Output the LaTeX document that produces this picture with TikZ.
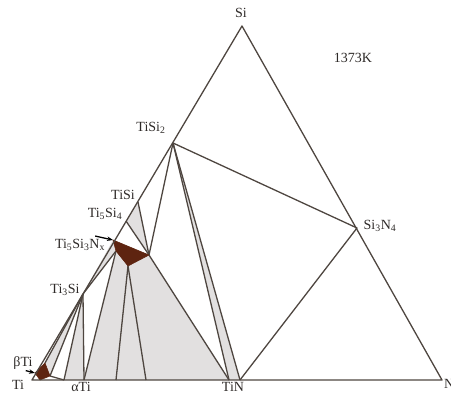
\documentclass[tikz,border=0pt]{standalone}
\usepackage{fontspec}
\setmainfont{Liberation Serif}
\usetikzlibrary{arrows.meta}

\begin{document}
\begin{tikzpicture}[x=1pt, y=-1pt,
    every node/.style={font=\fontsize{14}{16}\selectfont, inner sep=0pt, text=textc},
    tie/.style={draw=linec, line width=1.3pt, line join=round},
    twophase/.style={fill=grayc},
    phase/.style={fill=darkc, draw=darkc, line width=0.6pt, line join=round},
    pointer/.style={-{Stealth[length=6pt, width=4.5pt]}, line width=1.3pt}]
  \definecolor{linec}{HTML}{4E4640}
  \definecolor{textc}{HTML}{2E2A28}
  \definecolor{grayc}{HTML}{E2E0E0}
  \definecolor{darkc}{HTML}{5E2410}
  \useasboundingbox (0,0) rectangle (451,396);
  % corners of the section
  \coordinate (Ti) at (32,380);
  \coordinate (N) at (442,380);
  \coordinate (Si) at (242,26);
  % Ti-Si side
  \coordinate (TiSiTwo) at (173,143);
  \coordinate (TiSiOne) at (138,202);
  \coordinate (TiFiveSiFour) at (126,221);
  \coordinate (TiThreeSi) at (83,294);
  % Ti5Si3Nx field
  \coordinate (d1) at (113,240);
  \coordinate (d2) at (149,255);
  \coordinate (d3) at (128,266);
  \coordinate (d4) at (116,251);
  % beta Ti field
  \coordinate (b1) at (35,373);
  \coordinate (b2) at (45,363);
  \coordinate (b3) at (50,376);
  \coordinate (b4) at (40,380);
  % Ti-N side
  \coordinate (a1) at (64,380);
  \coordinate (a2) at (84,380);
  \coordinate (a3) at (116,380);
  \coordinate (a4) at (146,380);
  \coordinate (n1) at (229,380);
  \coordinate (n2) at (240,380);
  % Si-N side
  \coordinate (SiThreeNFour) at (357,228);

  % two phase fields
  \fill[twophase] (TiSiTwo) -- (n1) -- (n2) -- cycle;
  \fill[twophase] (d2) -- (n1) -- (a3) -- (d3) -- cycle;
  \fill[twophase] (d4) -- (d3) -- (a3) -- (a2) -- cycle;
  \fill[twophase] (TiFiveSiFour) -- (TiSiOne) -- (d2) -- cycle;
  \fill[twophase] (TiThreeSi) -- (d1) -- (d4) -- cycle;
  \fill[twophase] (TiThreeSi) -- (a1) -- (a2) -- cycle;
  \fill[twophase] (b2) -- (TiThreeSi) -- (b3) -- cycle;

  % tie lines
  \draw[tie] (TiSiTwo) -- (SiThreeNFour) -- (n2);
  \draw[tie] (TiSiTwo) -- (n1);
  \draw[tie] (TiSiTwo) -- (n2);
  \draw[tie] (TiSiTwo) -- (d2);
  \draw[tie] (TiSiOne) -- (d2);
  \draw[tie] (TiFiveSiFour) -- (d2);
  \draw[tie] (d2) -- (n1);
  \draw[tie] (d3) -- (a4);
  \draw[tie] (d3) -- (a3);
  \draw[tie] (d4) -- (a2);
  \draw[tie] (TiThreeSi) -- (d4);
  \draw[tie] (TiThreeSi) -- (a1);
  \draw[tie] (TiThreeSi) -- (a2);
  \draw[tie] (b2) -- (TiThreeSi);
  \draw[tie] (b3) -- (TiThreeSi);
  \draw[tie] (b3) -- (a1);

  % single phase fields
  \filldraw[phase] (d1) -- (d2) -- (d3) -- (d4) -- cycle;
  \filldraw[phase] (b1) -- (b2) -- (b3) -- (b4) -- cycle;

  % outer triangle
  \draw[tie] (Ti) -- (N) -- (Si) -- cycle;

  % labels
  \node (lSi) at (241,13) {Si};
  \node (lT) at (353,58) {1373K};
  \node (lTiSiTwo) at (151,128) {TiSi\textsubscript{2}};
  \node (lTiSiOne) at (123,195) {TiSi};
  \node (lTiFiveSiFour) at (105,214) {Ti\textsubscript{5}Si\textsubscript{4}};
  \node (lTiFiveSiThree) at (80,245) {Ti\textsubscript{5}Si\textsubscript{3}N\textsubscript{x}};
  \node (lTiThreeSi) at (65,290) {Ti\textsubscript{3}Si};
  \node (lbeta) at (23,363) {βTi};
  \node (lTi) at (18,385) {Ti};
  \node (lalpha) at (81,387) {αTi};
  \node (lTiN) at (233,387) {TiN};
  \node (lSiThreeNFour) at (380,226) {Si\textsubscript{3}N\textsubscript{4}};
  \node[anchor=west] (lN) at (444,384) {N};

  % arrows
  \draw[pointer] (lTiFiveSiThree.north east) ++(-10,-3) coordinate (p1) (p1) -- (d1);
  \draw[pointer] (lbeta.south east) ++(-7,1) coordinate (p2) (p2) -- (b1);
\end{tikzpicture}
\end{document}
